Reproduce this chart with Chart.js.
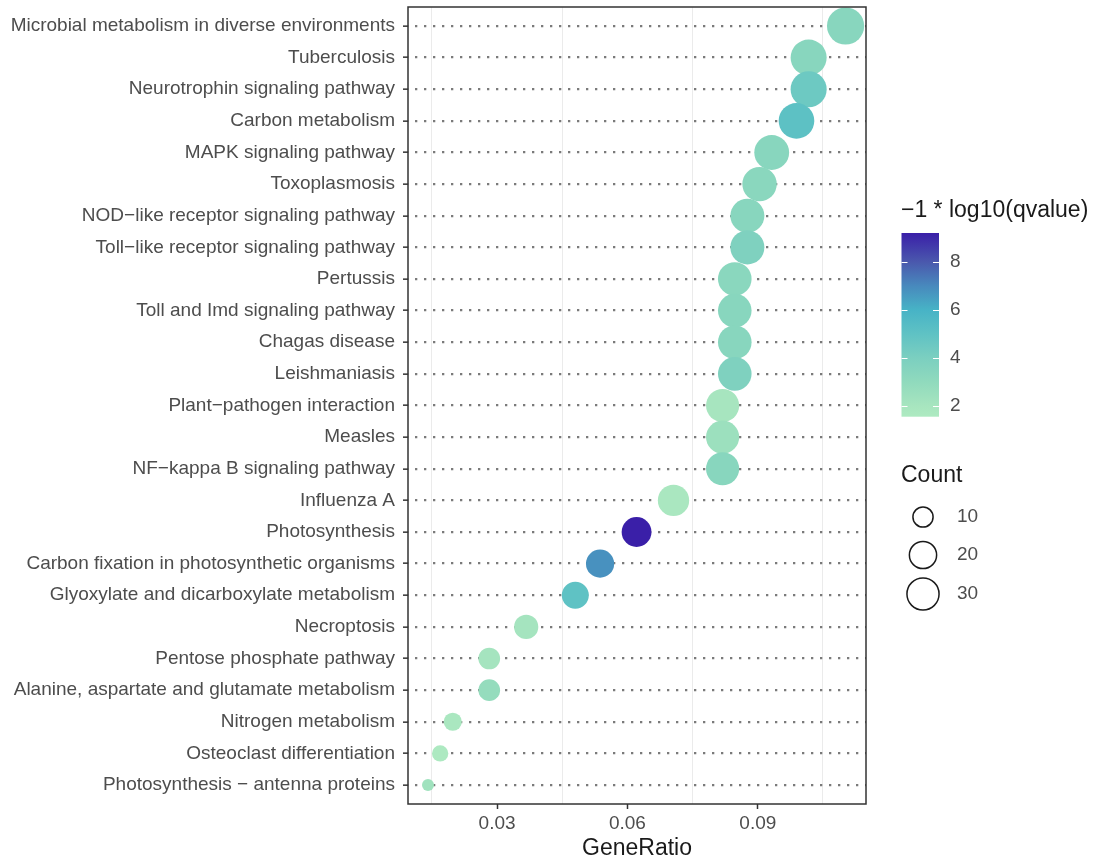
<!DOCTYPE html>
<html>
<head>
<meta charset="utf-8">
<script src="https://cdn.jsdelivr.net/npm/chart.js@4.4.1/dist/chart.umd.min.js"></script>
<style>
  html, body { margin: 0; padding: 0; background: #ffffff; }
  #wrap { width: 1097px; height: 864px; }
</style>
</head>
<body>
<div id="wrap"><canvas id="dotplot" width="1097" height="864"></canvas></div>
<script>
// KEGG enrichment dot plot: one row per pathway, top to bottom
const pathways = [
  "Microbial metabolism in diverse environments",
  "Tuberculosis",
  "Neurotrophin signaling pathway",
  "Carbon metabolism",
  "MAPK signaling pathway",
  "Toxoplasmosis",
  "NOD\u2212like receptor signaling pathway",
  "Toll\u2212like receptor signaling pathway",
  "Pertussis",
  "Toll and Imd signaling pathway",
  "Chagas disease",
  "Leishmaniasis",
  "Plant\u2212pathogen interaction",
  "Measles",
  "NF\u2212kappa B signaling pathway",
  "Influenza A",
  "Photosynthesis",
  "Carbon fixation in photosynthetic organisms",
  "Glyoxylate and dicarboxylate metabolism",
  "Necroptosis",
  "Pentose phosphate pathway",
  "Alanine, aspartate and glutamate metabolism",
  "Nitrogen metabolism",
  "Osteoclast differentiation",
  "Photosynthesis \u2212 antenna proteins"
];

const geneRatio = [
  0.1102, 0.1017, 0.1017, 0.0989, 0.0932, 0.0904, 0.0876, 0.0876, 0.0847, 0.0847,
  0.0847, 0.0847, 0.0819, 0.0819, 0.0819, 0.0706, 0.0621, 0.0537, 0.0480, 0.0367,
  0.0282, 0.0282, 0.0198, 0.0169, 0.0141
];

const geneCount = [
  39, 36, 36, 35, 33, 32, 31, 31, 30, 30,
  30, 30, 29, 29, 29, 25, 22, 19, 17, 13,
  10, 10, 7, 6, 5
];

const negLog10Q = [
  3.4, 3.4, 4.5, 5.1, 3.4, 3.3, 3.4, 3.8, 3.3, 3.4,
  3.4, 3.8, 2.0, 2.5, 3.4, 1.8, 9.2, 6.8, 5.0, 2.1,
  2.1, 2.8, 1.8, 1.6, 2.3
];

const ratioTicks = [0.03, 0.06, 0.09];
const ratioMinorTicks = [0.015, 0.045, 0.075, 0.105];
const colorBreaks = [2, 4, 6, 8];
const countBreaks = [10, 20, 30];

// colour ramp for -log10(q), low -> high
const qLimits = [1.55, 9.2];
const qPalette = [
  [1.55, "#aeeac1"],
  [2.0,  "#a7e5bf"],
  [3.0,  "#90dabd"],
  [4.0,  "#7bcfc0"],
  [5.0,  "#5fc2c4"],
  [6.0,  "#47b3c6"],
  [7.0,  "#4889bd"],
  [8.0,  "#4a58ad"],
  [9.2,  "#3a1fa8"]
];

// point size scale (area based, like ggplot's scale_size)
const countLimits = [5, 39];
const radiusRange = [6, 18.6];

function radiusFor(n) {
  const t = Math.max(0, Math.min(1, (n - countLimits[0]) / (countLimits[1] - countLimits[0])));
  return radiusRange[0] + Math.sqrt(t) * (radiusRange[1] - radiusRange[0]);
}

function hexToRgb(h) {
  const v = parseInt(h.slice(1), 16);
  return [(v >> 16) & 255, (v >> 8) & 255, v & 255];
}

function colorFor(q) {
  if (q <= qPalette[0][0]) return qPalette[0][1];
  for (let i = 1; i < qPalette.length; i++) {
    const [v1, c1] = qPalette[i];
    const [v0, c0] = qPalette[i - 1];
    if (q <= v1) {
      const t = (q - v0) / (v1 - v0);
      const a = hexToRgb(c0), b = hexToRgb(c1);
      const m = a.map((x, k) => Math.round(x + (b[k] - x) * t));
      return `rgb(${m[0]},${m[1]},${m[2]})`;
    }
  }
  return qPalette[qPalette.length - 1][1];
}

const near = (a, list) => list.some(t => Math.abs(a - t) < 1e-9);

const TEXT_GREY = "#4d4d4d";
const TITLE_COL = "#1a1a1a";
const FONT = "'Liberation Sans', Arial, Helvetica, sans-serif";

Chart.defaults.font.family = FONT;

const points = geneRatio.map((r, i) => ({ x: r, y: i }));

// white page, panel border and the two guides on the right
const guidesPlugin = {
  id: "guides",
  beforeDraw(chart) {
    const ctx = chart.ctx;
    ctx.save();
    ctx.fillStyle = "#ffffff";
    ctx.fillRect(0, 0, chart.width, chart.height);
    ctx.restore();
  },
  afterDatasetsDraw(chart) {
    const { ctx, chartArea: a } = chart;
    ctx.save();
    ctx.strokeStyle = "#333333";
    ctx.lineWidth = 1.5;
    ctx.strokeRect(a.left, a.top, a.right - a.left, a.bottom - a.top);
    ctx.restore();
  },
  afterDraw(chart) {
    const ctx = chart.ctx;
    ctx.save();

    // colour bar guide
    ctx.fillStyle = TITLE_COL;
    ctx.font = `23px ${FONT}`;
    ctx.textAlign = "left";
    ctx.textBaseline = "middle";
    ctx.fillText("\u22121 * log10(qvalue)", 901, 211);

    const barL = 901.5, barR = 939, barT = 233, barB = 416.7;
    const yOf = q => barB - (q - qLimits[0]) / (qLimits[1] - qLimits[0]) * (barB - barT);
    const grad = ctx.createLinearGradient(0, barB, 0, barT);
    qPalette.forEach(([v, c]) => {
      grad.addColorStop((v - qLimits[0]) / (qLimits[1] - qLimits[0]), c);
    });
    ctx.fillStyle = grad;
    ctx.fillRect(barL, barT, barR - barL, barB - barT);

    ctx.strokeStyle = "#ffffff";
    ctx.lineWidth = 1;
    ctx.font = `19px ${FONT}`;
    ctx.fillStyle = TEXT_GREY;
    colorBreaks.forEach(b => {
      const y = Math.round(yOf(b)) + 0.5;
      ctx.beginPath();
      ctx.moveTo(barL, y); ctx.lineTo(barL + 6, y);
      ctx.moveTo(barR - 6, y); ctx.lineTo(barR, y);
      ctx.stroke();
      ctx.fillText(String(b), 950, yOf(b));
    });

    // size guide
    ctx.fillStyle = TITLE_COL;
    ctx.font = `23px ${FONT}`;
    ctx.fillText("Count", 901, 476);

    const keyY = [517, 555, 594];
    ctx.font = `19px ${FONT}`;
    countBreaks.forEach((n, i) => {
      ctx.beginPath();
      ctx.arc(923, keyY[i], radiusFor(n) - 0.75, 0, Math.PI * 2);
      ctx.fillStyle = "#ffffff";
      ctx.fill();
      ctx.strokeStyle = "#1a1a1a";
      ctx.lineWidth = 1.5;
      ctx.stroke();
      ctx.fillStyle = TEXT_GREY;
      ctx.fillText(String(n), 957, keyY[i]);
    });

    ctx.restore();
  }
};

new Chart(document.getElementById("dotplot"), {
  type: "scatter",
  data: {
    datasets: [{
      label: "Count",
      data: points,
      pointRadius: c => radiusFor(geneCount[c.dataIndex]),
      pointHoverRadius: c => radiusFor(geneCount[c.dataIndex]),
      pointBackgroundColor: c => colorFor(negLog10Q[c.dataIndex]),
      pointBorderWidth: 0,
      pointBorderColor: "rgba(0,0,0,0)",
      clip: false
    }]
  },
  options: {
    responsive: false,
    animation: false,
    events: [],
    layout: { autoPadding: false, padding: { left: 0, top: 7, right: 231, bottom: 0 } },
    plugins: {
      legend: { display: false },
      tooltip: { enabled: false },
      title: { display: false }
    },
    scales: {
      x: {
        type: "linear",
        position: "bottom",
        min: 0.0095,
        max: 0.1149,
        afterBuildTicks(scale) {
          scale.ticks = [...ratioMinorTicks, ...ratioTicks]
            .sort((a, b) => a - b)
            .map(v => ({ value: v }));
        },
        ticks: {
          autoSkip: false,
          maxRotation: 0,
          color: TEXT_GREY,
          font: { size: 19 },
          padding: 3,
          callback: v => (near(v, ratioTicks) ? v.toFixed(2) : "")
        },
        grid: {
          color: c => (c.tick && near(c.tick.value, ratioMinorTicks) ? "#ebebeb" : "rgba(0,0,0,0)"),
          lineWidth: 1,
          tickLength: 5,
          tickWidth: 1.5,
          tickColor: c => (c.tick && near(c.tick.value, ratioTicks) ? "#333333" : "rgba(0,0,0,0)")
        },
        border: { display: false },
        title: {
          display: true,
          text: "GeneRatio",
          color: TITLE_COL,
          font: { size: 23 },
          padding: { top: 0, bottom: 2 }
        },
        afterFit(scale) {
          scale.height = 60;
          scale.paddingLeft = 0;
          scale.paddingRight = 0;
        }
      },
      y: {
        type: "linear",
        reverse: true,
        min: -0.6,
        max: pathways.length - 0.4,
        afterBuildTicks(scale) {
          scale.ticks = pathways.map((_, i) => ({ value: i }));
        },
        ticks: {
          autoSkip: false,
          color: TEXT_GREY,
          font: { size: 19 },
          padding: 8,
          callback: v => pathways[v] ?? ""
        },
        grid: {
          color: "#7a7a7a",
          lineWidth: 2.3,
          tickLength: 5,
          tickWidth: 1.5,
          tickColor: "#333333"
        },
        border: { display: false, dash: [2.3, 6.7], dashOffset: 2 },
        afterFit(scale) {
          scale.width = 408;
          scale.paddingTop = 0;
          scale.paddingBottom = 0;
        }
      }
    }
  },
  plugins: [guidesPlugin]
});
</script>
</body>
</html>
